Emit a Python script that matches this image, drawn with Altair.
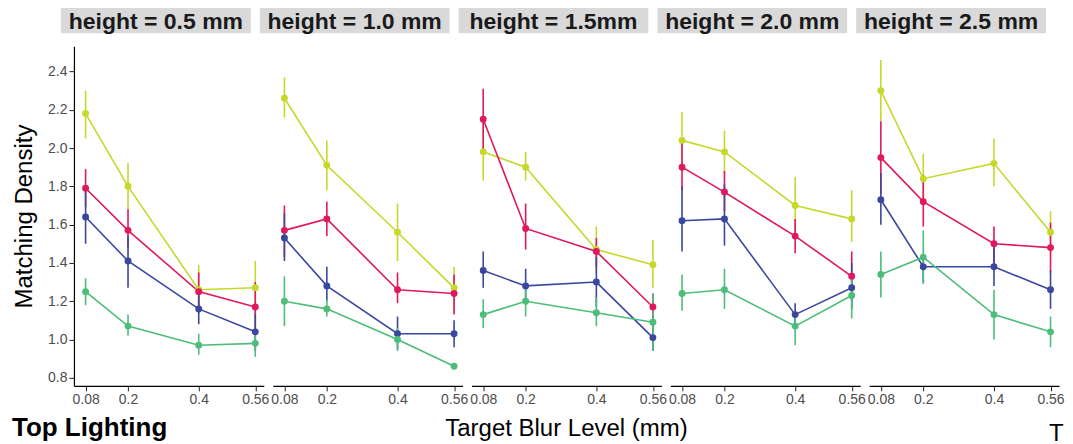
import altair as alt
import pandas as pd

panels = ["height = 0.5 mm", "height = 1.0 mm", "height = 1.5mm", "height = 2.0 mm", "height = 2.5 mm"]
blur = [0.08, 0.2, 0.4, 0.56]
series = ["A", "B", "C", "D"]
colors = ["#c6d92b", "#e0185f", "#3a47a0", "#4dbd7a"]
y_ticks = [0.8, 1.0, 1.2, 1.4, 1.6, 1.8, 2.0, 2.2, 2.4]

# series A (yellow-green)
a_mean = [[2.18, 1.80, 1.26, 1.27], [2.26, 1.91, 1.56, 1.27], [1.98, 1.90, 1.47, 1.39], [2.04, 1.98, 1.70, 1.63], [2.30, 1.84, 1.92, 1.56]]
a_lo = [[2.05, 1.68, 1.13, 1.11], [2.16, 1.78, 1.41, 1.14], [1.83, 1.83, 1.35, 1.27], [1.91, 1.87, 1.56, 1.51], [2.14, 1.72, 1.80, 1.44]]
a_hi = [[2.30, 1.92, 1.39, 1.41], [2.37, 2.04, 1.71, 1.38], [2.14, 1.98, 1.59, 1.52], [2.19, 2.09, 1.85, 1.78], [2.46, 1.97, 2.05, 1.67]]
# series B (crimson)
b_mean = [[1.79, 1.57, 1.25, 1.17], [1.57, 1.63, 1.26, 1.24], [2.15, 1.58, 1.46, 1.17], [1.90, 1.77, 1.54, 1.33], [1.95, 1.72, 1.50, 1.48]]
b_lo = [[1.69, 1.48, 1.14, 1.04], [1.43, 1.54, 1.19, 1.13], [1.99, 1.47, 1.38, 1.11], [1.78, 1.67, 1.45, 1.20], [1.76, 1.59, 1.40, 1.35]]
b_hi = [[1.89, 1.68, 1.35, 1.30], [1.70, 1.72, 1.35, 1.34], [2.31, 1.71, 1.53, 1.24], [2.03, 1.88, 1.63, 1.46], [2.14, 1.86, 1.59, 1.61]]
# series C (blue)
c_mean = [[1.64, 1.41, 1.16, 1.04], [1.53, 1.28, 1.03, 1.03], [1.36, 1.28, 1.30, 1.01], [1.62, 1.63, 1.13, 1.27], [1.73, 1.38, 1.38, 1.26]]
c_lo = [[1.50, 1.27, 1.08, 0.94], [1.41, 1.20, 0.95, 0.96], [1.27, 1.20, 1.17, 0.94], [1.46, 1.49, 1.07, 1.16], [1.60, 1.30, 1.28, 1.16]]
c_hi = [[1.79, 1.54, 1.26, 1.13], [1.66, 1.38, 1.12, 1.10], [1.46, 1.37, 1.43, 1.11], [1.80, 1.81, 1.19, 1.40], [1.87, 1.44, 1.49, 1.36]]
# series D (green)
d_mean = [[1.25, 1.07, 0.97, 0.98], [1.20, 1.16, 1.00, 0.86], [1.13, 1.20, 1.14, 1.09], [1.24, 1.26, 1.07, 1.23], [1.34, 1.43, 1.13, 1.04]]
d_lo = [[1.18, 1.02, 0.92, 0.91], [1.07, 1.12, 0.94, 0.85], [1.06, 1.12, 1.07, 0.94], [1.15, 1.16, 0.97, 1.11], [1.22, 1.29, 1.00, 0.96]]
d_hi = [[1.32, 1.13, 1.03, 1.05], [1.33, 1.21, 1.06, 0.87], [1.21, 1.28, 1.22, 1.24], [1.34, 1.37, 1.13, 1.34], [1.46, 1.57, 1.26, 1.12]]

means = [a_mean, b_mean, c_mean, d_mean]
los = [a_lo, b_lo, c_lo, d_lo]
his = [a_hi, b_hi, c_hi, d_hi]

rows = []
for s_i, s in enumerate(series):
    for p_i, p in enumerate(panels):
        for b_i, b in enumerate(blur):
            rows.append({"panel": p, "series": s, "blur": b,
                         "mean": means[s_i][p_i][b_i], "lo": los[s_i][p_i][b_i], "hi": his[s_i][p_i][b_i]})
df = pd.DataFrame(rows)

FONT = "Liberation Sans"
W, H = 190, 340
xscale = alt.Scale(domain=[0.047, 0.584], nice=False, zero=False)
yscale = alt.Scale(domain=[0.758, 2.532], nice=False, zero=False)
xaxis = alt.Axis(values=blur, format=".2~f", title=None, grid=False, domainColor="#000000", domainWidth=1.2,
                 tickColor="#222222", tickSize=5, labelFontSize=14, labelColor="#4d4d4d", labelPadding=2,
                 labelFlush=False, labelOverlap=False, labelFont=FONT)
yaxis = alt.Axis(values=y_ticks, format=".1f", title="Matching Density", grid=False, domainColor="#000000",
                 domainWidth=1.2, tickColor="#222222", tickSize=5, labelFontSize=14, labelColor="#4d4d4d",
                 labelPadding=2, labelFlush=False, titleFontSize=24, titleFontWeight="normal",
                 titleColor="#000000", titlePadding=11, titleFont=FONT, labelFont=FONT)
color = alt.Color("series:N", scale=alt.Scale(domain=series, range=colors), legend=None)


def label_text(txt, x, y, size, weight="normal", align="left"):
    return alt.Chart(pd.DataFrame({"t": [txt]})).mark_text(
        font=FONT, fontSize=size, fontWeight=weight, color="#000000", align=align, baseline="alphabetic"
    ).encode(x=alt.value(x), y=alt.value(y), text="t:N")


def panel(i):
    d = df[df["panel"] == panels[i]]
    ax = yaxis if i == 0 else None
    base = alt.Chart(d)
    x = alt.X("blur:Q", scale=xscale, axis=xaxis)
    err = base.mark_rule(strokeWidth=1.6).encode(
        x=x, y=alt.Y("lo:Q", scale=yscale, axis=ax), y2="hi:Q", color=color)
    line = base.mark_line(strokeWidth=1.6).encode(
        x=x, y=alt.Y("mean:Q", scale=yscale, axis=ax), color=color, order="blur:Q")
    pts = base.mark_circle(size=48, opacity=1).encode(
        x=x, y=alt.Y("mean:Q", scale=yscale, axis=ax), color=color)
    hdr_df = pd.DataFrame({"label": [panels[i]]})
    hdr_box = alt.Chart(hdr_df).mark_rect(color="#d9d9d9").encode(
        x=alt.value(-13), x2=alt.value(177), y=alt.value(-39), y2=alt.value(-13))
    hdr_txt = alt.Chart(hdr_df).mark_text(font=FONT, fontSize=23, fontWeight="bold", color="#1a1a1a",
                                          align="center", baseline="middle").encode(
        x=alt.value(82), y=alt.value(-24.5), text="label:N")
    layers = [hdr_box, hdr_txt, err, line, pts]
    if i == 0:
        layers.append(label_text("Top Lighting", -62, 390, 26, "bold"))
    if i == 2:
        layers.append(label_text("Target Blur Level (mm)", 95, 390, 24, "normal", "center"))
    if i == 4:
        layers.append(label_text("T", 180, 395, 24))
    return alt.layer(*layers).properties(width=W, height=H)


chart = alt.hconcat(*[panel(i) for i in range(5)], spacing=9, bounds="flush").resolve_scale(
    x="independent", y="independent"
).properties(
    padding={"left": 4, "top": -1, "right": 0, "bottom": 0},
    background="white",
).configure_view(stroke="transparent", strokeWidth=0)

chart.save("out.html", embed_options={"renderer": "svg", "actions": False})
